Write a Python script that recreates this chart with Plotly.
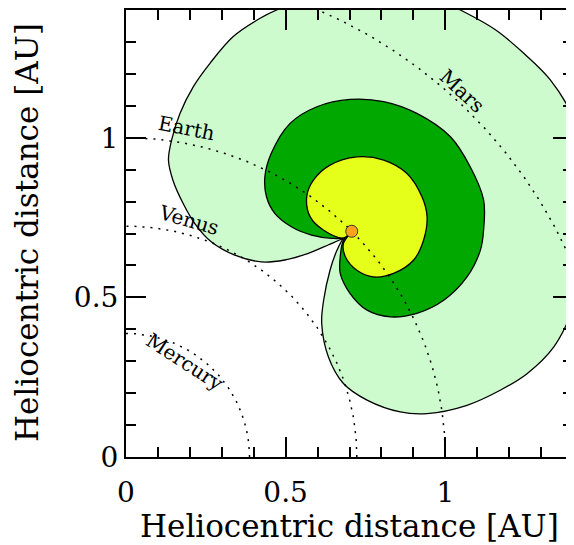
import numpy as np
import plotly.graph_objects as go

# ---- data (AU) ----
orbit_names = ["Mercury", "Venus", "Earth", "Mars"]
orbit_radii = [0.387, 0.723, 1.0, 1.524]

source_x = [0.707]
source_y = [0.707]

outer_x = [0.707, 0.687, 0.633, 0.571, 0.497, 0.424, 0.341, 0.267, 0.215, 0.179, 0.147,
           0.133, 0.143, 0.169, 0.211, 0.263, 0.336, 0.420, 0.472, 0.608, 0.759, 0.922,
           1.047, 1.157, 1.245, 1.329, 1.401, 1.436, 1.455, 1.442, 1.401, 1.340, 1.256,
           1.172, 1.068, 0.943, 0.859, 0.755, 0.681, 0.634, 0.613, 0.619, 0.639, 0.661,
           0.681, 0.707]
outer_y = [0.707, 0.689, 0.664, 0.638, 0.617, 0.611, 0.632, 0.674, 0.732, 0.794, 0.867,
           0.930, 0.993, 1.076, 1.160, 1.233, 1.317, 1.374, 1.400, 1.447, 1.476, 1.457,
           1.400, 1.338, 1.265, 1.181, 1.062, 0.930, 0.773, 0.617, 0.466, 0.345, 0.261,
           0.209, 0.162, 0.136, 0.141, 0.178, 0.230, 0.313, 0.418, 0.491, 0.585, 0.648,
           0.685, 0.707]

mid_x = [0.707, 0.680, 0.644, 0.581, 0.518, 0.466, 0.440, 0.435, 0.455, 0.514, 0.598,
         0.702, 0.807, 0.911, 1.016, 1.078, 1.120, 1.120, 1.110, 1.068, 0.995, 0.911,
         0.828, 0.755, 0.702, 0.671, 0.671, 0.681, 0.707]
mid_y = [0.707, 0.686, 0.685, 0.695, 0.721, 0.763, 0.815, 0.878, 0.951, 1.045, 1.097,
         1.120, 1.113, 1.076, 1.003, 0.909, 0.805, 0.711, 0.648, 0.564, 0.491, 0.450,
         0.439, 0.460, 0.512, 0.575, 0.627, 0.679, 0.707]

inner_x = [0.707, 0.681, 0.618, 0.577, 0.566, 0.587, 0.639, 0.723, 0.807, 0.880, 0.927,
           0.943, 0.932, 0.901, 0.838, 0.775, 0.723, 0.687, 0.681, 0.707]
inner_y = [0.707, 0.686, 0.711, 0.752, 0.815, 0.867, 0.914, 0.940, 0.930, 0.888, 0.815,
           0.752, 0.679, 0.617, 0.575, 0.564, 0.585, 0.627, 0.669, 0.707]

axis_title = "Heliocentric distance [AU]"

FONT = "DejaVu Serif"

fig = go.Figure()

for xs, ys, col in [(outer_x, outer_y, "#cdfbcd"),
                    (mid_x, mid_y, "#00a800"),
                    (inner_x, inner_y, "#e6ff1a")]:
    fig.add_trace(go.Scatter(x=xs, y=ys, mode="lines", fill="toself", fillcolor=col,
                             line=dict(color="black", width=1.3, shape="spline", smoothing=1.0),
                             hoverinfo="skip", showlegend=False))

theta = np.linspace(0, np.pi / 2, 300)
for name, r in zip(orbit_names, orbit_radii):
    fig.add_trace(go.Scatter(x=r * np.cos(theta), y=r * np.sin(theta), mode="lines",
                             line=dict(color="black", width=1.5, dash="2px,6px"),
                             hoverinfo="skip", showlegend=False))

fig.add_trace(go.Scatter(x=source_x, y=source_y, mode="markers",
                         marker=dict(size=12, color="#ffa31a", line=dict(color="#333", width=1)),
                         showlegend=False))

labels = [("Earth", 0.188, 1.03, 11), ("Venus", 0.197, 0.742, 16),
          ("Mercury", 0.185, 0.297, 33), ("Mars", 1.053, 1.146, 43)]
for txt, lx, ly, ang in labels:
    fig.add_annotation(x=lx, y=ly, text=txt, showarrow=False, textangle=ang,
                       font=dict(family=FONT, size=20, color="black"))

# axis titles
fig.add_annotation(xref="paper", yref="paper", x=0.501, y=-0.155, text=axis_title,
                   showarrow=False, xanchor="center", yanchor="middle",
                   font=dict(family=FONT, size=31, color="black"))
fig.add_annotation(xref="paper", yref="paper", x=-0.222, y=0.503, text=axis_title,
                   showarrow=False, xanchor="center", yanchor="middle", textangle=-90,
                   font=dict(family=FONT, size=31, color="black"))

axis_common = dict(range=[0, 1.4], dtick=0.5, tick0=0, ticks="inside", ticklen=20,
                   tickwidth=2, tickcolor="black", showline=True, linewidth=2,
                   linecolor="black", mirror="allticks", showgrid=False, zeroline=False,
                   automargin=False,
                   tickfont=dict(family=FONT, size=28, color="black"),
                   minor=dict(ticks="inside", dtick=0.1, ticklen=10, tickwidth=2,
                              tickcolor="black", showgrid=False))

fig.update_xaxes(**axis_common, ticklabelstandoff=9)
fig.update_yaxes(**axis_common, ticklabelstandoff=0)

# page body has an 8px default margin; size the figure so the plot area
# lands at the reference position inside the 574x545 window
fig.update_layout(width=566, height=537, margin=dict(l=118, r=1, t=2, b=88),
                  plot_bgcolor="white", paper_bgcolor="white", showlegend=False)

fig.write_html("out.html")
